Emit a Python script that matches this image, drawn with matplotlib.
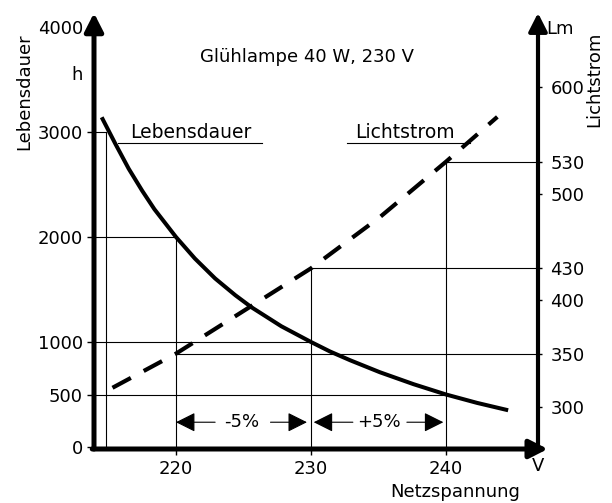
"""
plot.py
=======
Glühlampe 40 W, 230 V: Lebensdauer und Lichtstrom über der Netzspannung.
Writes out.png (612 x 503 px).
"""

import matplotlib

matplotlib.use("Agg")
import matplotlib.pyplot as plt

# ---- data -----------------------------------------------------------------
volt_life = [214.5, 215.5, 216.5, 217.5, 218.4, 220.0, 221.4, 222.9, 224.4,
             225.6, 227.8, 230.0, 231.4, 232.9, 235.1, 237.6, 240.0, 242.3, 244.6]
life_h = [3140, 2890, 2650, 2440, 2265, 2000, 1795, 1605, 1445,
          1330, 1150, 1000, 910, 826, 712, 598, 500, 420, 350]

volt_flux = [215.3, 220.0, 225.5, 230.0, 235.1, 240.0, 243.8]
flux_lm = [318, 350, 394, 430, 478, 530, 572]

x_ticks = [220, 230, 240]
life_ticks = [0, 500, 1000, 2000, 3000, 4000]
flux_ticks = [300, 350, 400, 430, 500, 530, 600]

# reading lines: (voltage, lifetime, luminous flux)
v_start, life_start = 214.8, 3000
v_low, v_nom, v_high = 220, 230, 240
life_low, life_nom, life_high = 2000, 1000, 500
flux_low, flux_nom, flux_high = 350, 430, 530

FS = 13
plt.rcParams["font.family"] = ["DejaVu Sans"]
plt.rcParams["font.size"] = FS

W, H = 612, 503
fig = plt.figure(figsize=(W / 100, H / 100), dpi=100)
ax = fig.add_axes([94 / W, 54 / H, 444 / W, 436 / H])
ax2 = ax.twinx()

ax.set_xlim(213.93, 246.81)
ax.set_ylim(-19, 4133)
ax2.set_ylim(260.6, 669.4)

for a in (ax, ax2):
    for s in a.spines.values():
        s.set_visible(False)

# ---- axes with arrow heads -----------------------------------------------
arrow_kw = dict(arrowstyle="-|>,head_length=0.55,head_width=0.28",
                color="black", shrinkA=0, shrinkB=0, mutation_scale=20)
ax.annotate("", xy=(0, 1), xytext=(0, 0), xycoords="axes fraction",
            arrowprops=dict(lw=3.6, **arrow_kw), annotation_clip=False)
ax.annotate("", xy=(1, 1), xytext=(1, 0), xycoords="axes fraction",
            arrowprops=dict(lw=3.0, **arrow_kw), annotation_clip=False)
ax.annotate("", xy=(1.022, 0), xytext=(-0.004, 0), xycoords="axes fraction",
            arrowprops=dict(lw=3.6, **arrow_kw), annotation_clip=False)

ax.set_xticks(x_ticks)
ax.set_yticks(life_ticks)
ax2.set_yticks(flux_ticks)
ax.tick_params(axis="x", length=4, width=1, pad=4, labelsize=FS)
ax.tick_params(axis="y", length=5, width=1, pad=3, labelsize=FS)
ax2.tick_params(axis="y", length=3, width=1, pad=6, labelsize=FS)

# ---- reading lines ----------------------------------------------------------
thin = dict(color="black", lw=0.8, zorder=1)
x0, x1 = ax.get_xlim()
y0 = ax.get_ylim()[0]
ax.plot([x0, v_start], [life_start, life_start], **thin)
ax.plot([v_start, v_start], [y0, life_start], **thin)
ax.plot([x0, v_low], [life_low, life_low], **thin)
ax.plot([v_low, v_low], [y0, life_low], **thin)
ax.plot([x0, v_nom], [life_nom, life_nom], **thin)
ax.plot([x0, v_high], [life_high, life_high], **thin)

f0 = ax2.get_ylim()[0]
ax2.plot([v_nom, v_nom], [f0, flux_nom], **thin)
ax2.plot([v_high, v_high], [f0, flux_high], **thin)
ax2.plot([v_low, x1], [flux_low, flux_low], **thin)
ax2.plot([v_nom, x1], [flux_nom, flux_nom], **thin)
ax2.plot([v_high, x1], [flux_high, flux_high], **thin)

# ---- curves ------------------------------------------------------------------
ax.plot(volt_life, life_h, color="black", lw=2.9, solid_capstyle="butt",
        solid_joinstyle="round", zorder=3)
ax2.plot(volt_flux, flux_lm, color="black", lw=3.0, linestyle=(0, (5, 3.5)),
         dash_capstyle="butt", zorder=3)

# ---- curve labels with underline ---------------------------------------------
ax.text(216.6, 2941, "Lebensdauer", ha="left", va="baseline", fontsize=13.5)
ax.plot([215.7, 226.4], [2893, 2893], **thin)
ax.text(233.26, 2941, "Lichtstrom", ha="left", va="baseline", fontsize=13.5)
ax.plot([232.7, 241.8], [2893, 2893], **thin)

# ---- -5% / +5% arrows ------------------------------------------------------------
y_arr = 236
head = dict(arrowstyle="-|>,head_length=0.6,head_width=0.3", color="black",
            lw=0.8, shrinkA=0, shrinkB=0, mutation_scale=20)
ax.annotate("", xy=(220.0, y_arr), xytext=(222.9, y_arr), arrowprops=head)
ax.annotate("", xy=(229.7, y_arr), xytext=(227.0, y_arr), arrowprops=head)
ax.annotate("", xy=(230.2, y_arr), xytext=(233.1, y_arr), arrowprops=head)
ax.annotate("", xy=(239.8, y_arr), xytext=(237.1, y_arr), arrowprops=head)
ax.text(224.9, y_arr, "-5%", ha="center", va="center", fontsize=FS)
ax.text(235.0, y_arr, "+5%", ha="center", va="center", fontsize=FS)

# ---- titles and axis captions ------------------------------------------------------
def ftext(x, y, s, **kw):
    fig.text(x / W, 1 - y / H, s, fontsize=FS, **kw)

ftext(307, 57, "Glühlampe 40 W, 230 V", ha="center", va="center")
ftext(24, 92, "Lebensdauer", ha="center", va="center", rotation=90)
ftext(77, 75, "h", ha="center", va="center")
ftext(560, 29, "Lm", ha="center", va="center")
ftext(594, 79, "Lichtstrom", ha="center", va="center", rotation=90)
ftext(538, 466, "V", ha="center", va="center")
ftext(455, 492, "Netzspannung", ha="center", va="center")

fig.savefig("out.png", dpi=100)
